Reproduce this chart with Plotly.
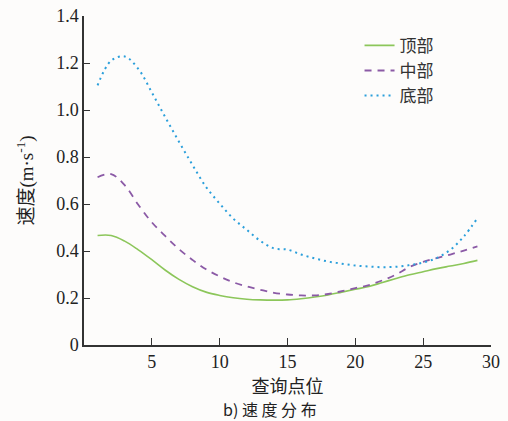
import plotly.graph_objects as go

x_points = list(range(1, 30))
top_speed = [0.466, 0.466, 0.442, 0.405, 0.363, 0.318, 0.279, 0.248, 0.225, 0.211,
             0.201, 0.195, 0.192, 0.191, 0.192, 0.197, 0.204, 0.213, 0.225, 0.237,
             0.249, 0.266, 0.283, 0.299, 0.312, 0.325, 0.336, 0.347, 0.36]
mid_speed = [0.714, 0.727, 0.68, 0.597, 0.522, 0.463, 0.408, 0.362, 0.322, 0.292,
             0.267, 0.249, 0.235, 0.222, 0.215, 0.211, 0.211, 0.217, 0.229, 0.242,
             0.255, 0.275, 0.30, 0.332, 0.354, 0.37, 0.385, 0.402, 0.42]
bot_speed = [1.105, 1.21, 1.228, 1.175, 1.075, 0.968, 0.865, 0.766, 0.672, 0.602,
             0.538, 0.49, 0.443, 0.411, 0.406, 0.385, 0.369, 0.355, 0.346, 0.338,
             0.334, 0.331, 0.333, 0.34, 0.351, 0.37, 0.405, 0.462, 0.54]
series_names = ["顶部", "中部", "底部"]
y_ticks = [0, 0.2, 0.4, 0.6, 0.8, 1.0, 1.2, 1.4]
y_tick_text = ["0", "0.2", "0.4", "0.6", "0.8", "1.0", "1.2", "1.4"]
x_ticks = [5, 10, 15, 20, 25, 30]

serif = "'Liberation Serif', 'Times New Roman', 'Noto Sans CJK SC', serif"
cjk = "'Noto Sans CJK SC', 'Noto Sans CJK JP', sans-serif"

fig = go.Figure()
fig.add_trace(go.Scatter(x=x_points, y=top_speed, name=series_names[0], mode="lines",
                         line=dict(color="#8cc65a", width=1.6, shape="spline")))
fig.add_trace(go.Scatter(x=x_points, y=mid_speed, name=series_names[1], mode="lines",
                         line=dict(color="#8b5aa6", width=1.8, shape="spline", dash="7px,6px")))
fig.add_trace(go.Scatter(x=x_points, y=bot_speed, name=series_names[2], mode="lines",
                         line=dict(color="#2b9fdb", width=2, shape="spline", dash="2px,4px")))

fig.update_layout(
    width=508, height=421,
    margin=dict(l=84, r=17, t=16, b=76, autoexpand=False),
    paper_bgcolor="#fdfcfb", plot_bgcolor="#fdfcfb",
    font=dict(family=serif, size=16, color="#222"),
    showlegend=True,
    legend=dict(x=0.677, y=0.964, xanchor="left", yanchor="top",
                bgcolor="rgba(0,0,0,0)", font=dict(family=cjk, size=17, color="#333"),
                tracegroupgap=0, itemwidth=30),
    xaxis=dict(range=[0, 30], tickvals=x_ticks, ticks="inside", ticklen=7,
               tickcolor="#333", showline=True, linecolor="#333", linewidth=1.5,
               showgrid=False, zeroline=False,
               tickfont=dict(family=serif, size=18, color="#222"),
               title=dict(text="查询点位", font=dict(family=cjk, size=18, color="#222"), standoff=2)),
    yaxis=dict(range=[0, 1.4], tickvals=y_ticks, ticktext=y_tick_text, ticks="inside",
               ticklen=6, tickcolor="#333", showline=True, linecolor="#333", linewidth=1.5,
               showgrid=False, zeroline=False,
               tickfont=dict(family=serif, size=18, color="#222"),
               title=dict(text="速度(m·s<sup>-1</sup>)", font=dict(family=serif, size=19, color="#222"), standoff=18)),
)
fig.add_annotation(text="b) 速 度 分 布", xref="paper", yref="paper", x=0.457, y=-0.1945,
                   xanchor="center", yanchor="middle", showarrow=False,
                   font=dict(family=cjk, size=16, color="#222"))

fig.write_html("out.html", config={"displayModeBar": False},
               post_script="document.body.style.margin='0';document.body.style.overflow='hidden';")
